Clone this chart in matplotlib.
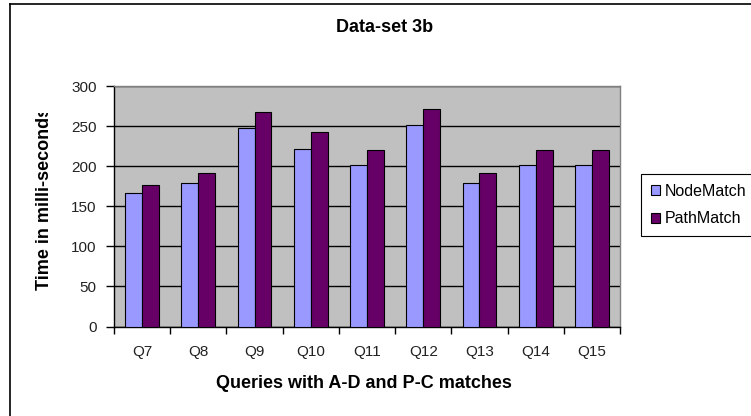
import numpy as np
import matplotlib
matplotlib.use("Agg")
import matplotlib.pyplot as plt
from matplotlib.lines import Line2D
from matplotlib.patches import Rectangle

plt.rcParams['font.family'] = ['Liberation Sans', 'DejaVu Sans']

queries = ["Q7", "Q8", "Q9", "Q10", "Q11", "Q12", "Q13", "Q14", "Q15"]
node_match = [167, 179, 247, 222, 202, 251, 179, 202, 202]
path_match = [177, 192, 267, 242, 220, 271, 191, 220, 220]

W, H = 751, 416
fig = plt.figure(figsize=(W / 100, H / 100), dpi=100)
fig.patch.set_facecolor("white")

# plot area in pixel terms -> figure fractions
ax = fig.add_axes([114 / W, 89.5 / H, 506 / W, 240.5 / H])
ax.set_facecolor("#C0C0C0")

x = np.arange(len(queries))
bw = 0.3
ax.bar(x - bw / 2, node_match, bw, color="#9999FF", edgecolor="black",
       linewidth=0.8, label="NodeMatch", zorder=3)
ax.bar(x + bw / 2, path_match, bw, color="#660066", edgecolor="black",
       linewidth=0.8, label="PathMatch", zorder=3)

ax.set_xlim(-0.5, len(queries) - 0.5)
ax.set_ylim(0, 300)
ax.set_yticks(range(0, 301, 50))
ax.yaxis.grid(True, color="black", linewidth=1.0, zorder=1)
ax.set_axisbelow(True)

ax.set_xticks(x)
ax.set_xticklabels(queries)
ax.set_xticks(np.arange(-0.5, len(queries), 1), minor=True)
ax.tick_params(axis="x", which="major", length=0, pad=13, labelsize=11,
               labelcolor="#222222")
ax.tick_params(axis="x", which="minor", length=5, width=1, direction="out")
ax.tick_params(axis="y", length=5.5, width=1, direction="out", pad=7,
               labelsize=11, labelcolor="#222222")

for s in ["top", "right"]:
    ax.spines[s].set_color("#808080")
    ax.spines[s].set_linewidth(1.0)
for s in ["left", "bottom"]:
    ax.spines[s].set_color("black")
    ax.spines[s].set_linewidth(1.0)

fig.text(385 / W, 1 - 27 / H, "Data-set 3b", ha="center", va="center",
         fontsize=13, fontweight="bold")
fig.text(364 / W, 1 - 384 / H, "Queries with A-D and P-C matches",
         ha="center", va="center", fontsize=13, fontweight="bold")

# y label is cut off at the top like in the exported chart
ylab = fig.text(45 / W, 1 - 290 / H, "Time in milli-seconds", rotation=90,
                ha="center", va="bottom", fontsize=13, fontweight="bold")
clip = Rectangle((0, 0), 1, 1 - 113 / H, transform=fig.transFigure,
                 visible=False)
fig.patches.append(clip)
ylab.set_clip_path(clip)

leg = fig.legend(loc="upper left", bbox_to_anchor=(641 / W, 1 - 174 / H),
                 bbox_transform=fig.transFigure, borderaxespad=0,
                 fancybox=False, edgecolor="black", framealpha=1,
                 fontsize=11.5, handlelength=0.6, handleheight=0.6,
                 handletextpad=0.3, labelspacing=0.8, borderpad=0.6)
leg.get_frame().set_linewidth(0.8)

# chart frame (top and left edges only; the rest is cropped)
fig.add_artist(Line2D([9.5 / W, 9.5 / W], [0, 1 - 3.5 / H],
                      transform=fig.transFigure, color="black", linewidth=1.2))
fig.add_artist(Line2D([9.5 / W, 1], [1 - 3.5 / H, 1 - 3.5 / H],
                      transform=fig.transFigure, color="black", linewidth=1.2))

fig.savefig("out.png", dpi=100)
